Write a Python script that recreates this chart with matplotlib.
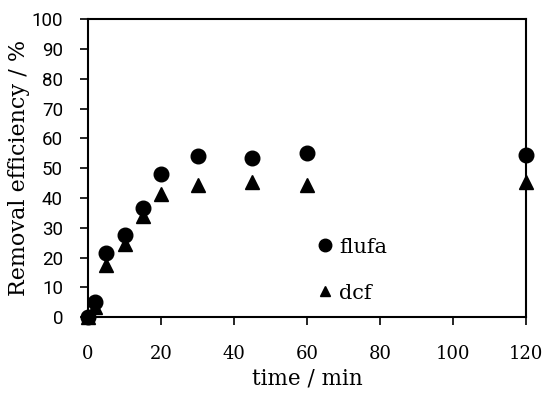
import matplotlib.pyplot as plt

time = [0, 2, 5, 10, 15, 20, 30, 45, 60, 120]
flufa = [0, 5, 21.5, 27.5, 36.5, 48, 54, 53.5, 55, 54.5]
dcf = [0, 3.5, 17.5, 24.5, 34, 41.5, 44.5, 45.5, 44.5, 45.5]

plt.rcParams['font.family'] = ['DejaVu Serif']

fig, ax = plt.subplots(figsize=(5.5, 3.99), dpi=100)
fig.subplots_adjust(left=0.16, right=0.957, top=0.952, bottom=0.205)

ax.plot(time, flufa, 'o', color='black', markersize=10.5, label='flufa', clip_on=False, zorder=3)
ax.plot(time, dcf, '^', color='black', markersize=10.5, label='dcf', clip_on=False, zorder=3)

ax.set_xlim(0, 120)
ax.set_ylim(0, 100)
ax.set_xticks(range(0, 121, 20))
ax.set_yticks(range(0, 101, 10))
ax.tick_params(axis='both', direction='out', length=6, width=1.2, colors='black')
ax.tick_params(axis='x', pad=14, labelsize=13)
ax.tick_params(axis='y', pad=12, labelsize=13.5)
for lab in ax.get_yticklabels():
    lab.set_fontfamily('Roboto')
for s in ax.spines.values():
    s.set_linewidth(1.5)

ax.set_xlabel('time / min', fontsize=15.5, labelpad=3)
ax.set_ylabel('Removal efficiency / %', fontsize=16, labelpad=1)

leg = ax.legend(loc='center left', bbox_to_anchor=(0.518, 0.158), frameon=False, fontsize=15,
                borderpad=0, borderaxespad=0, handletextpad=0.15, labelspacing=1.3,
                handlelength=1.0)
leg.legend_handles[0].set_markersize(9)
leg.legend_handles[1].set_markersize(7.5)

plt.savefig('out.png', dpi=100, facecolor='w')
